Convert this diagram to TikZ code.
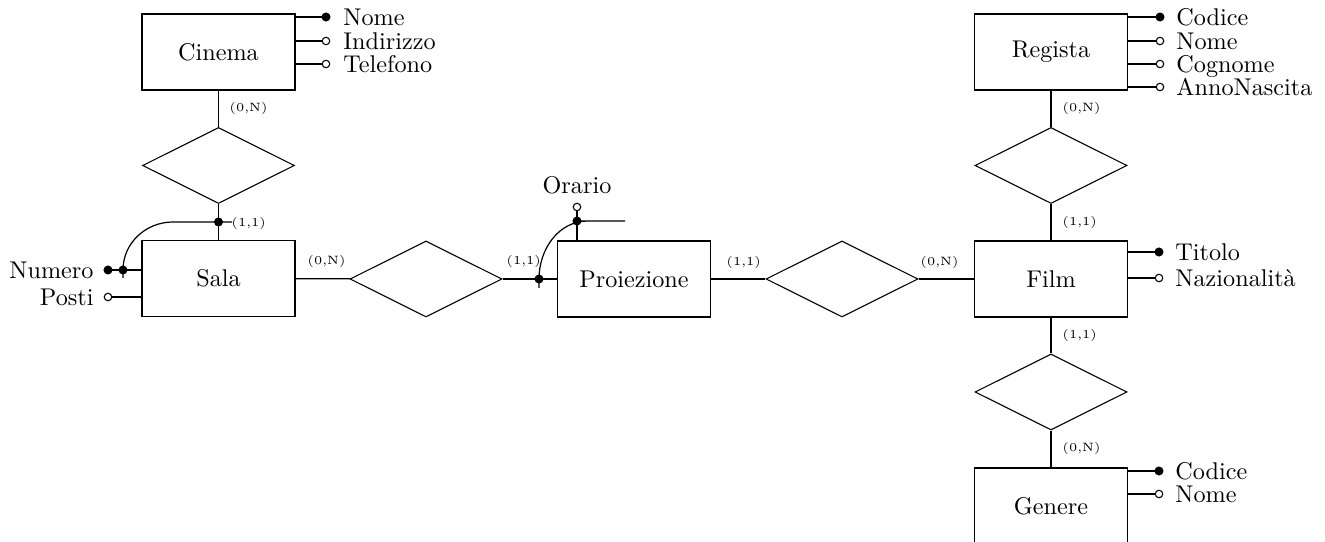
\documentclass[tikz,border=0pt]{standalone}
\usetikzlibrary{shapes.geometric}
\begin{document}
\begin{tikzpicture}[x=0.4132pt,y=-0.4132pt,
 entity/.style={draw, line width=0.7pt, rectangle, minimum width=63.2pt, minimum height=31.4pt, inner sep=0pt},
 rel/.style={draw, line width=0.45pt, diamond, minimum width=62.8pt, minimum height=31.4pt, inner sep=0pt},
 keyattr/.style={circle, fill, draw, line width=0.4pt, inner sep=0pt, minimum size=3.3pt},
 plainattr/.style={circle, draw, fill=white, line width=0.45pt, inner sep=0pt, minimum size=3.1pt},
 card/.style={font=\tiny, inner sep=0pt},
 lbl/.style={inner sep=0pt, text height=6.8pt, text depth=0pt},
 conn/.style={line width=0.5pt}]
\useasboundingbox (0,0) rectangle (1325,542);

% entities
\node[entity] (cinema) at (218.5,52) {Cinema};
\node[entity] (sala) at (218.5,278.5) {Sala};
\node[entity] (proiezione) at (634,279) {Proiezione};
\node[entity] (film) at (1051,279) {Film};
\node[entity] (regista) at (1051,52) {Regista};
\node[entity] (genere) at (1051,506) {Genere};

% relationships
\node[rel] (r1) at (218.5,165.5) {};
\node[rel] (r2) at (426,279) {};
\node[rel] (r3) at (842,279) {};
\node[rel] (r4) at (1051,165.5) {};
\node[rel] (r5) at (1051,392) {};

\draw[conn] (cinema) -- (r1);
\draw[conn] (r1) -- (sala);
\draw[conn] (sala) -- (r2);
\draw[conn] (r2) -- (proiezione);
\draw[conn] (proiezione) -- (r3);
\draw[conn] (r3) -- (film);
\draw[conn] (regista) -- (r4);
\draw[conn] (r4) -- (film);
\draw[conn] (film) -- (r5);
\draw[conn] (r5) -- (genere);

% cardinalities
\node[card, anchor=west] at (229,108) {(0,N)};
\node[card, anchor=west] at (231,223) {(1,1)};
\node[card, anchor=west] at (307,261) {(0,N)};
\node[card, anchor=west] at (506,261) {(1,1)};
\node[card, anchor=west] at (726,262) {(1,1)};
\node[card, anchor=west] at (920,262) {(0,N)};
\node[card, anchor=west] at (1062,108) {(0,N)};
\node[card, anchor=west] at (1062,222) {(1,1)};
\node[card, anchor=west] at (1062,335) {(1,1)};
\node[card, anchor=west] at (1062,448) {(0,N)};

% Cinema attributes
\node[keyattr] (cnome) at (326,17) {};
\node[plainattr] (cind) at (326,41) {};
\node[plainattr] (ctel) at (326,64) {};
\draw[conn] (cinema.east |- cnome) -- (cnome);
\draw[conn] (cinema.east |- cind) -- (cind);
\draw[conn] (cinema.east |- ctel) -- (ctel);
\node[lbl, anchor=west] at (343,17) {Nome};
\node[lbl, anchor=west] at (343,41) {Indirizzo};
\node[lbl, anchor=west] at (343,64) {Telefono};

% Regista attributes
\node[keyattr] (rcod) at (1160,17) {};
\node[plainattr] (rnome) at (1160,41) {};
\node[plainattr] (rcog) at (1160,64) {};
\node[plainattr] (ranno) at (1160,87) {};
\draw[conn] (regista.east |- rcod) -- (rcod);
\draw[conn] (regista.east |- rnome) -- (rnome);
\draw[conn] (regista.east |- rcog) -- (rcog);
\draw[conn] (regista.east |- ranno) -- (ranno);
\node[lbl, anchor=west] at (1176,17) {Codice};
\node[lbl, anchor=west] at (1176,41) {Nome};
\node[lbl, anchor=west] at (1176,64) {Cognome};
\node[lbl, anchor=west] at (1176,87) {AnnoNascita};

% Film attributes
\node[keyattr] (ftit) at (1159,252) {};
\node[plainattr] (fnaz) at (1159,278) {};
\draw[conn] (film.east |- ftit) -- (ftit);
\draw[conn] (film.east |- fnaz) -- (fnaz);
\node[lbl, anchor=west] at (1175,252) {Titolo};
\node[lbl, anchor=west] at (1175,278) {Nazionalità};

% Genere attributes
\node[keyattr] (gcod) at (1159,471) {};
\node[plainattr] (gnome) at (1159,494) {};
\draw[conn] (genere.east |- gcod) -- (gcod);
\draw[conn] (genere.east |- gnome) -- (gnome);
\node[lbl, anchor=west] at (1175,471) {Codice};
\node[lbl, anchor=west] at (1175,494) {Nome};

% Sala attributes and external identifier
\node[keyattr] (numero) at (108,270) {};
\node[plainattr] (posti) at (108,297) {};
\draw[conn] (sala.west |- numero) -- (numero);
\draw[conn] (sala.west |- posti) -- (posti);
\node[lbl, anchor=east] at (94,270) {Numero};
\node[lbl, anchor=east] at (94,297) {Posti};
\node[keyattr] (jnum) at (123,270) {};
\node[keyattr] (jsala) at (218.5,222) {};
\coordinate (sidstart) at (123,278);
\coordinate (sidend) at (232,222);
\draw[conn] (sidstart) -- (jnum.center) to[out=90,in=180] (173,222) -- (jsala.center) -- (sidend);

% Proiezione attribute and external identifier
\node[plainattr] (orario) at (577,207) {};
\node[keyattr] (jor) at (577,221) {};
\draw[conn] (proiezione.north -| orario) -- (orario);
\node[lbl, anchor=south] at (577,194) {Orario};
\node[keyattr] (jpr) at (539,279) {};
\coordinate (pidstart) at (539,288);
\coordinate (pidend) at (625,221);
\draw[conn] (pidstart) -- (jpr.center) to[out=90,in=180] (588,221) -- (jor.center) -- (pidend);
\end{tikzpicture}
\end{document}
